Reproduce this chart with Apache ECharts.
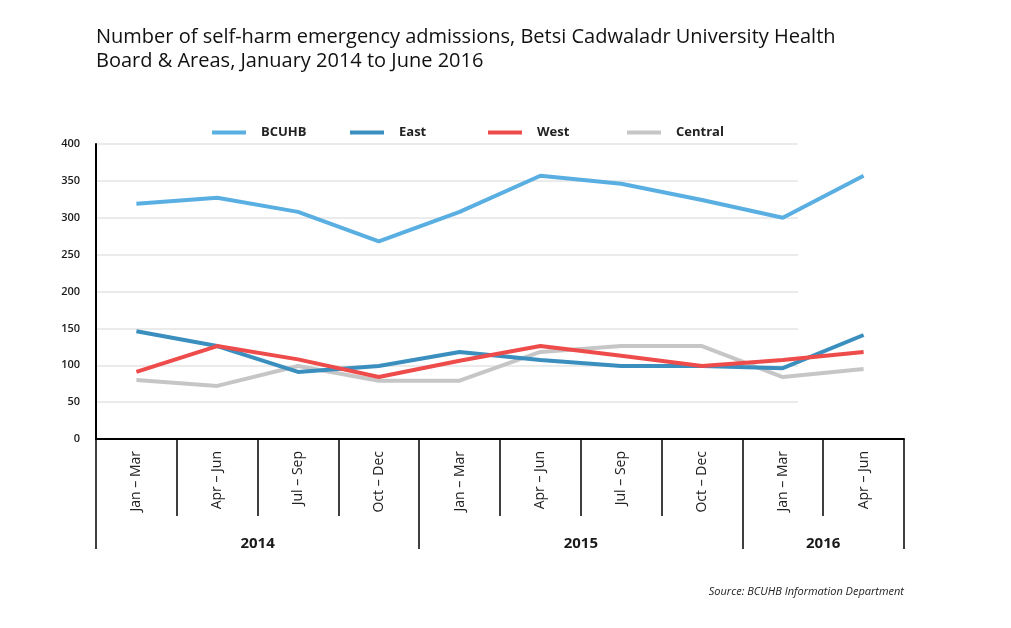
<!DOCTYPE html>
<html>
<head>
<meta charset="utf-8">
<script src="https://cdn.jsdelivr.net/npm/echarts@6/dist/echarts.min.js"></script>
<style>html,body{margin:0;padding:0;background:#fff}#c{width:1011px;height:628px}</style>
</head>
<body>
<div id="c"></div>
<script>
var categories = ['Jan – Mar','Apr – Jun','Jul – Sep','Oct – Dec','Jan – Mar','Apr – Jun','Jul – Sep','Oct – Dec','Jan – Mar','Apr – Jun'];
var years = ['2014','2015','2016'];
var yearBoundaries = [0,4,8,10];
var yearCentres = [2,6,9];
var bcuhb = [319,327,308,268,308,357,346,324,300,357];
var east = [146,126,91,99,118,107,99,99,96,141];
var west = [91,126,108,84,106,126,113,99,107,118];
var central = [80,72,99,79,79,118,126,126,84,95];
var yTicks = [0,50,100,150,200,250,300,350,400];

var colors = {BCUHB:'#5aafe2', East:'#3a8fbf', West:'#ee4b4b', Central:'#c6c6c6'};
var font = '"Open Sans", "Noto Sans", sans-serif';

function mkLegend(name, left){
  return {data:[name], left:left, top:121, itemWidth:34, itemHeight:4, icon:'rect',
    textStyle:{fontFamily:font, fontSize:13, fontWeight:'bold', color:'#222', padding:[0,0,0,10]}};
}
function mkSeries(name, data){
  return {name:name, type:'line', data:data, symbol:'none', showSymbol:false, smooth:false,
    lineStyle:{width:4, color:colors[name]}, itemStyle:{color:colors[name]}, z:3};
}

var chart = echarts.init(document.getElementById('c'));
chart.setOption({
  animation:false,
  title:[
    {text:'Number of self-harm emergency admissions, Betsi Cadwaladr University Health\nBoard & Areas, January 2014 to June 2016',
     left:91, top:20, textStyle:{fontFamily:font, fontSize:20, fontWeight:500, color:'#111', lineHeight:24}},
    {text:'Source: BCUHB Information Department', right:102, top:581,
     textStyle:{fontFamily:font, fontSize:11, fontStyle:'italic', fontWeight:'normal', color:'#222'}}
  ],
  legend:[mkLegend('BCUHB',207), mkLegend('East',345), mkLegend('West',483), mkLegend('Central',622)],
  grid:[
    {left:96, right:107, top:144, bottom:189},
    {left:96, right:213, top:144, bottom:189}
  ],
  xAxis:[
    {type:'category', gridIndex:0, data:categories, position:'bottom', boundaryGap:true,
     axisLine:{lineStyle:{color:'#000', width:2}},
     axisTick:{show:true, alignWithLabel:false, length:77, lineStyle:{color:'#000', width:1.5}},
     axisLabel:{rotate:90, margin:12, interval:0, fontFamily:font, fontSize:14, color:'#222'},
     splitLine:{show:false}},
    {type:'value', gridIndex:0, min:0, max:10, position:'bottom', offset:0,
     axisLine:{show:false},
     axisTick:{show:true, customValues:yearBoundaries, length:110, lineStyle:{color:'#000', width:1.5}},
     axisLabel:{show:true, customValues:yearCentres, margin:97, fontFamily:font, fontSize:15, fontWeight:'bold', color:'#1a1a1a',
       formatter:function(v){ return years[yearCentres.indexOf(v)]; }},
     splitLine:{show:false}},
    {type:'value', gridIndex:1, min:0, max:1, show:false}
  ],
  yAxis:[
    {type:'value', gridIndex:0, min:0, max:400, interval:50,
     axisLine:{show:true, lineStyle:{color:'#000', width:2}},
     axisTick:{show:false},
     axisLabel:{margin:16, fontFamily:font, fontSize:11, fontWeight:600, color:'#1a1a1a',
       formatter:function(v){ return yTicks.indexOf(v) >= 0 ? String(v) : ''; }},
     splitLine:{show:false}},
    {type:'value', gridIndex:1, min:0, max:400, interval:50,
     axisLine:{show:false}, axisTick:{show:false}, axisLabel:{show:false},
     splitLine:{show:true, lineStyle:{color:'#e4e4e4', width:1.5}}, z:0}
  ],
  series:[mkSeries('Central',central), mkSeries('East',east), mkSeries('West',west), mkSeries('BCUHB',bcuhb)]
});
</script>
</body>
</html>
